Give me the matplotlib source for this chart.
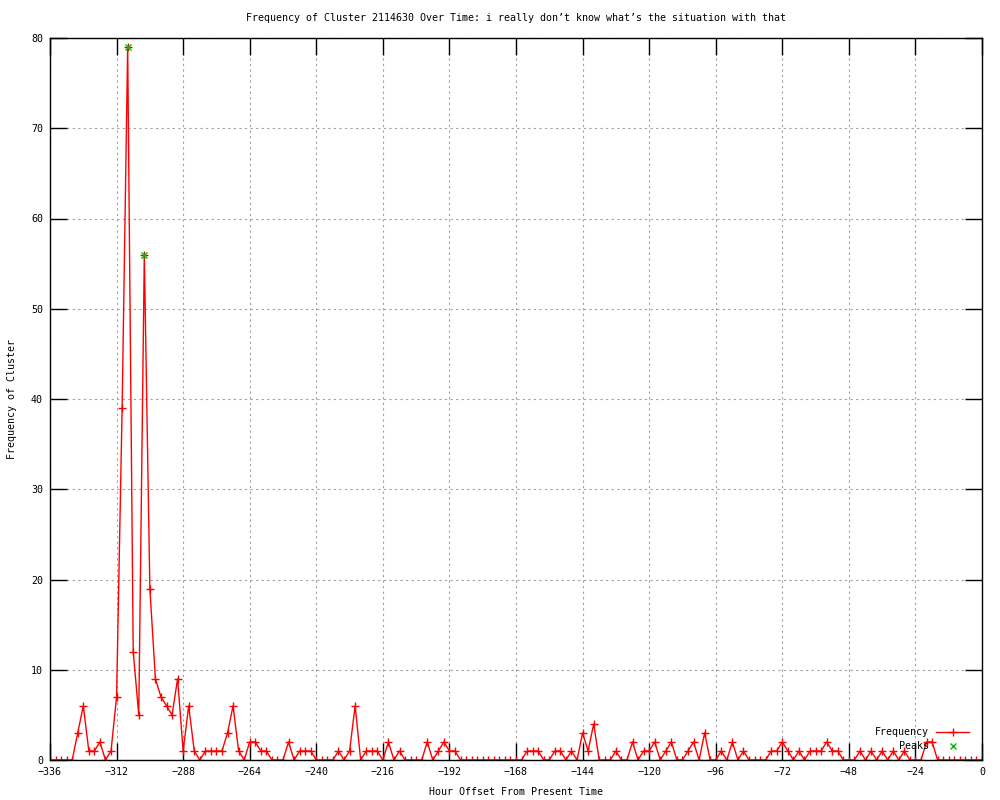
import numpy as np
import matplotlib
matplotlib.use("Agg")
import matplotlib.pyplot as plt

# hour offsets, one sample every 2 hours
hours = np.arange(-336, 1, 2)

# frequency per sample
freq = [0, 0, 0, 0, 0, 3, 6, 1, 1, 2,
        0, 1, 7, 39, 79, 12, 5, 56, 19, 9,
        7, 6, 5, 9, 1, 6, 1, 0, 1, 1,
        1, 1, 3, 6, 1, 0, 2, 2, 1, 1,
        0, 0, 0, 2, 0, 1, 1, 1, 0, 0,
        0, 0, 1, 0, 1, 6, 0, 1, 1, 1,
        0, 2, 0, 1, 0, 0, 0, 0, 2, 0,
        1, 2, 1, 1, 0, 0, 0, 0, 0, 0,
        0, 0, 0, 0, 0, 0, 1, 1, 1, 0,
        0, 1, 1, 0, 1, 0, 3, 1, 4, 0,
        0, 0, 1, 0, 0, 2, 0, 1, 1, 2,
        0, 1, 2, 0, 0, 1, 2, 0, 3, 0,
        0, 1, 0, 2, 0, 1, 0, 0, 0, 0,
        1, 1, 2, 1, 0, 1, 0, 1, 1, 1,
        2, 1, 1, 0, 0, 0, 1, 0, 1, 0,
        1, 0, 1, 0, 1, 0, 0, 0, 2, 2,
        0, 0, 0, 0, 0, 0, 0, 0, 0]

peak_hours = [-308, -302]
peak_values = [79, 56]

x_ticks = list(range(-336, 1, 24))
y_ticks = list(range(0, 81, 10))

title = "Frequency of Cluster 2114630 Over Time: i really don\u2019t know what\u2019s the situation with that"

plt.rcParams['font.family'] = ['DejaVu Sans Mono']
plt.rcParams['font.size'] = 7.2

fig = plt.figure(figsize=(10, 8), dpi=100)
ax = fig.add_axes([0.05, 0.05, 0.932, 0.9025])

ax.plot(hours, freq, color='#ff0000', lw=1.0, marker='+', ms=6, mew=1.0,
        label='Frequency')
ax.plot(peak_hours, peak_values, ls='none', color='#00c000', marker='x',
        ms=5, mew=1.0, label='Peaks')

ax.set_xlim(-336, 0)
ax.set_ylim(0, 80)
ax.set_xticks(x_ticks)
ax.set_yticks(y_ticks)
ax.tick_params(direction='in', length=12, width=1, top=True, right=True,
               pad=5, colors='black')
ax.grid(True, color='#a0a0a0', ls=(0, (2, 3)), lw=0.8)
for s in ax.spines.values():
    s.set_linewidth(1.0)

ax.set_title(title, fontsize=7.2, pad=12)
ax.set_xlabel('Hour Offset From Present Time', labelpad=7)
ax.set_ylabel('Frequency of Cluster', labelpad=10)

ax.legend(loc='lower right', bbox_to_anchor=(0.969, 0.061),
          bbox_transform=fig.transFigure, frameon=False, markerfirst=False,
          handlelength=3.3, handletextpad=0.7, labelspacing=0.4,
          borderpad=0, borderaxespad=0, numpoints=1)

fig.savefig('out.png', dpi=100)
